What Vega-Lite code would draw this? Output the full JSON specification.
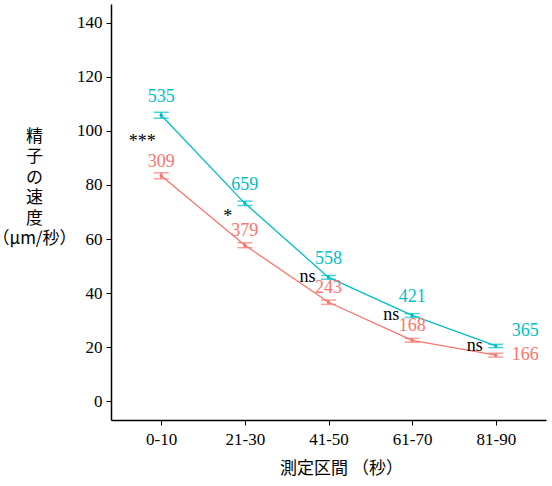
{
  "$schema": "https://vega.github.io/schema/vega-lite/v6.json",
  "autosize": {"type": "none"},
  "padding": {"left": 111, "top": 4, "right": 6, "bottom": 66},
  "width": 435,
  "height": 416,
  "config": {
    "view": {"stroke": null},
    "axis": {
      "grid": false,
      "domainColor": "black",
      "domainWidth": 1.5,
      "tickColor": "black",
      "tickWidth": 1,
      "tickSize": 5,
      "labelColor": "black",
      "labelFont": "Times New Roman, Liberation Serif, serif",
      "labelFontSize": 17,
      "titleColor": "black",
      "titleFont": "Noto Sans CJK JP",
      "titleFontWeight": "normal",
      "titleFontSize": 17
    },
    "text": {"font": "Liberation Serif", "fontSize": 18, "baseline": "middle"}
  },
  "data": {
    "values": [
      {"interval": "0-10", "group": "A", "mean": 83.4, "lo": 82.3, "hi": 84.5, "n": 309, "sig": ""},
      {"interval": "21-30", "group": "A", "mean": 57.7, "lo": 56.8, "hi": 58.6, "n": 379, "sig": ""},
      {"interval": "41-50", "group": "A", "mean": 36.6, "lo": 35.8, "hi": 37.4, "n": 243, "sig": ""},
      {"interval": "61-70", "group": "A", "mean": 22.5, "lo": 21.8, "hi": 23.2, "n": 168, "sig": ""},
      {"interval": "81-90", "group": "A", "mean": 17.0, "lo": 16.3, "hi": 17.7, "n": 166, "sig": ""},
      {"interval": "0-10", "group": "B", "mean": 105.8, "lo": 104.7, "hi": 106.9, "n": 535, "sig": "***"},
      {"interval": "21-30", "group": "B", "mean": 73.2, "lo": 72.4, "hi": 74.0, "n": 659, "sig": "*"},
      {"interval": "41-50", "group": "B", "mean": 45.8, "lo": 45.1, "hi": 46.5, "n": 558, "sig": "ns"},
      {"interval": "61-70", "group": "B", "mean": 31.7, "lo": 31.0, "hi": 32.4, "n": 421, "sig": "ns"},
      {"interval": "81-90", "group": "B", "mean": 20.4, "lo": 19.8, "hi": 21.0, "n": 365, "sig": "ns"}
    ]
  },
  "encoding": {
    "x": {
      "field": "interval",
      "type": "ordinal",
      "sort": ["0-10", "21-30", "41-50", "61-70", "81-90"],
      "scale": {"type": "point", "padding": 0.6},
      "axis": {
        "title": "測定区間 （秒）",
        "labelAngle": 0,
        "labelPadding": 6,
        "titleX": 230,
        "titleY": 48,
        "titleAlign": "center",
        "titleBaseline": "middle"
      }
    }
  },
  "layer": [
    {
      "mark": {"type": "line", "strokeWidth": 1.3},
      "encoding": {
        "y": {
          "field": "mean",
          "type": "quantitative",
          "scale": {"domain": [-7, 147], "nice": false, "zero": false},
          "axis": {
            "values": [0, 20, 40, 60, 80, 100, 120, 140],
            "labelPadding": 4,
            "title": ["精", "子", "の", "速", "度", "（μm/秒）"],
            "titleAngle": 0,
            "titleAlign": "center",
            "titleBaseline": "top",
            "titleX": -77,
            "titleY": 124,
            "titleLineHeight": 20.5
          }
        },
        "color": {
          "field": "group",
          "type": "nominal",
          "scale": {"domain": ["A", "B"], "range": ["#F8766D", "#00BFC4"]},
          "legend": null
        }
      }
    },
    {
      "mark": {"type": "rule", "strokeWidth": 1.5},
      "encoding": {
        "y": {"field": "lo", "type": "quantitative"},
        "y2": {"field": "hi"},
        "color": {"field": "group", "type": "nominal"}
      }
    },
    {
      "mark": {"type": "tick", "size": 15, "thickness": 1.5},
      "encoding": {
        "y": {"field": "lo", "type": "quantitative"},
        "color": {"field": "group", "type": "nominal"}
      }
    },
    {
      "mark": {"type": "tick", "size": 15, "thickness": 1.5},
      "encoding": {
        "y": {"field": "hi", "type": "quantitative"},
        "color": {"field": "group", "type": "nominal"}
      }
    },
    {
      "mark": {"type": "point", "filled": true, "size": 12, "opacity": 1},
      "encoding": {
        "y": {"field": "mean", "type": "quantitative"},
        "color": {"field": "group", "type": "nominal"}
      }
    },
    {
      "transform": [{"filter": "datum.group === 'B' && datum.interval !== '81-90'"}],
      "mark": {"type": "text", "dy": -18},
      "encoding": {
        "y": {"field": "mean", "type": "quantitative"},
        "text": {"field": "n"},
        "color": {"field": "group", "type": "nominal"}
      }
    },
    {
      "transform": [{"filter": "datum.group === 'A' && datum.interval !== '81-90'"}],
      "mark": {"type": "text", "dy": -14},
      "encoding": {
        "y": {"field": "mean", "type": "quantitative"},
        "text": {"field": "n"},
        "color": {"field": "group", "type": "nominal"}
      }
    },
    {
      "transform": [{"filter": "datum.group === 'B' && datum.interval === '81-90'"}],
      "mark": {"type": "text", "align": "left", "dx": 16, "dy": -15},
      "encoding": {
        "y": {"field": "mean", "type": "quantitative"},
        "text": {"field": "n"},
        "color": {"field": "group", "type": "nominal"}
      }
    },
    {
      "transform": [{"filter": "datum.group === 'A' && datum.interval === '81-90'"}],
      "mark": {"type": "text", "align": "left", "dx": 16, "dy": 0},
      "encoding": {
        "y": {"field": "mean", "type": "quantitative"},
        "text": {"field": "n"},
        "color": {"field": "group", "type": "nominal"}
      }
    },
    {
      "transform": [{"filter": "datum.sig === 'ns'"}],
      "mark": {"type": "text", "dx": -21, "dy": 0, "color": "black"},
      "encoding": {
        "y": {"field": "mean", "type": "quantitative"},
        "text": {"field": "sig"}
      }
    },
    {
      "transform": [{"filter": "datum.sig === '***'"}],
      "mark": {"type": "text", "dx": -19, "dy": 27, "color": "black"},
      "encoding": {
        "y": {"field": "mean", "type": "quantitative"},
        "text": {"field": "sig"}
      }
    },
    {
      "transform": [{"filter": "datum.sig === '*'"}],
      "mark": {"type": "text", "dx": -17, "dy": 14, "color": "black"},
      "encoding": {
        "y": {"field": "mean", "type": "quantitative"},
        "text": {"field": "sig"}
      }
    }
  ]
}
